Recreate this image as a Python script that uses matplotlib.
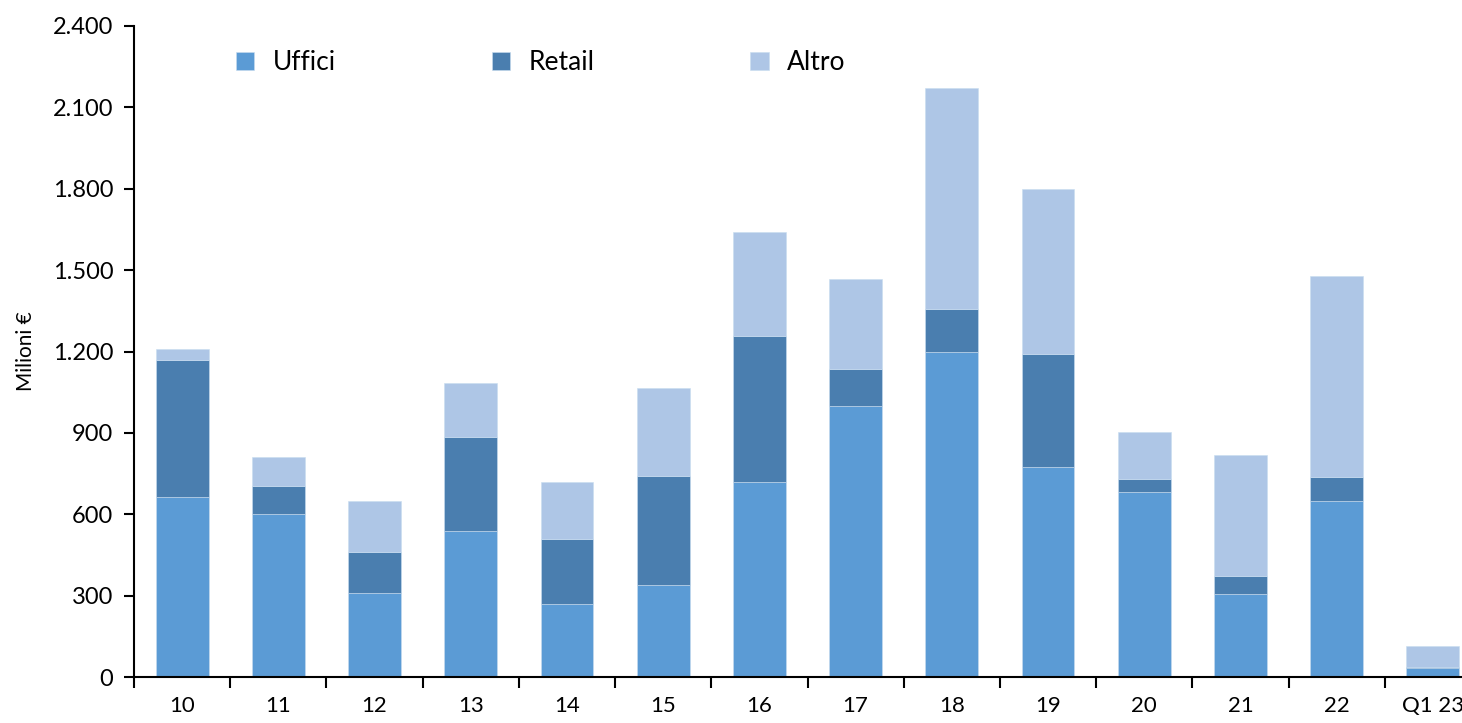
import matplotlib
matplotlib.use('Agg')
import matplotlib.pyplot as plt
import numpy as np

# data (milioni di euro)
categories = ["10", "11", "12", "13", "14", "15", "16", "17", "18", "19", "20", "21", "22", "Q1 23"]
uffici = [665, 600, 310, 540, 268, 340, 720, 1000, 1200, 775, 683, 305, 650, 32]
retail = [505, 105, 150, 345, 242, 400, 538, 135, 155, 415, 48, 67, 88, 6]
altro  = [40, 105, 190, 200, 210, 325, 384, 333, 815, 610, 171, 448, 740, 75]

col_uffici = "#5B9BD5"
col_retail = "#4A7EAF"
col_altro = "#AEC6E6"

plt.rcParams['font.family'] = ['Lato', 'DejaVu Sans']

fig = plt.figure(figsize=(14.62, 7.23), dpi=100)
ax = fig.add_axes([134 / 1462, 1 - 677 / 723, 1347 / 1462, 651 / 723])

x = np.arange(len(categories))
w = 0.55
u = np.array(uffici)
r = np.array(retail)
a = np.array(altro)
ax.bar(x, u, w, color=col_uffici, label="Uffici", edgecolor="#C9DDF0", linewidth=0.4)
ax.bar(x, r, w, bottom=u, color=col_retail, label="Retail", edgecolor="#C9DDF0", linewidth=0.4)
ax.bar(x, a, w, bottom=u + r, color=col_altro, label="Altro", edgecolor="#C9DDF0", linewidth=0.4)

ax.set_xlim(-0.5, len(categories) - 0.5)
ax.set_ylim(0, 2400)
yt = np.arange(0, 2401, 300)
ax.set_yticks(yt)
ax.set_yticklabels([f"{v:,}".replace(",", ".") for v in yt], fontsize=17)
ax.set_xticks(x)
ax.set_xticklabels(categories, fontsize=16)
ax.tick_params(axis='x', which='major', length=0, pad=14)
ax.set_xticks(np.arange(-0.5, len(categories) - 0.4, 1), minor=True)
ax.tick_params(axis='x', which='minor', length=8, width=1.5, direction='out')
ax.tick_params(axis='y', length=7, width=1.5, pad=8)

for s in ["top", "right"]:
    ax.spines[s].set_visible(False)
for s in ["left", "bottom"]:
    ax.spines[s].set_linewidth(1.5)
    ax.spines[s].set_color("black")

ax.set_ylabel("Milioni €", fontsize=15, labelpad=12)

ax.legend(loc="upper left", bbox_to_anchor=(0.058, 0.999), ncol=3, frameon=False,
          fontsize=19, handlelength=0.7, handleheight=0.7, handletextpad=0.7,
          columnspacing=5.9)

fig.savefig("out.png", dpi=100)
